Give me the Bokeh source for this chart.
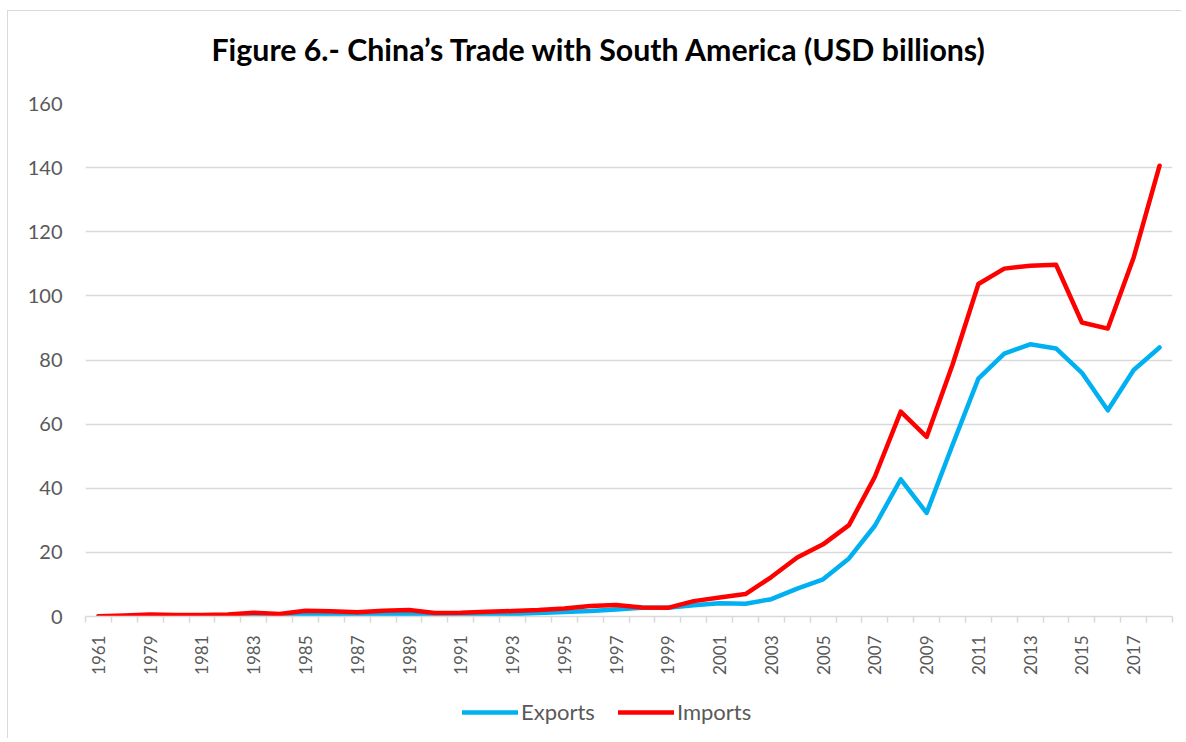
import math
from bokeh.plotting import figure
from bokeh.layouts import column
from bokeh.models import Range1d, FixedTicker, Legend, LegendItem, ColumnDataSource
from bokeh.embed import file_html
from bokeh.resources import INLINE

years = ["1961", "1978", "1979", "1980", "1981", "1982", "1983", "1984", "1985", "1986",
         "1987", "1988", "1989", "1990", "1991", "1992", "1993", "1994", "1995", "1996",
         "1997", "1998", "1999", "2000", "2001", "2002", "2003", "2004", "2005", "2006",
         "2007", "2008", "2009", "2010", "2011", "2012", "2013", "2014", "2015", "2016",
         "2017", "2018"]

exports = [0.05, 0.1, 0.2, 0.2, 0.2, 0.2, 0.3, 0.3, 0.6, 0.5,
           0.4, 0.6, 0.8, 0.3, 0.4, 0.6, 0.8, 1.1, 1.4, 1.7,
           2.2, 2.7, 2.7, 3.5, 4.1, 4.0, 5.4, 8.7, 11.6, 18.1,
           28.3, 42.8, 32.3, 53.5, 74.2, 82.0, 84.9, 83.6, 76.0, 64.3,
           76.9, 83.9]

imports = [0.1, 0.3, 0.6, 0.5, 0.5, 0.6, 1.2, 0.8, 1.8, 1.6,
           1.3, 1.8, 2.0, 1.1, 1.2, 1.5, 1.7, 2.0, 2.5, 3.3,
           3.6, 2.8, 2.7, 4.8, 5.9, 7.0, 12.3, 18.4, 22.5, 28.5,
           43.6, 63.9, 56.0, 78.5, 103.7, 108.5, 109.4, 109.7, 91.7, 89.8,
           112.0, 140.6]

y_ticks = [0, 20, 40, 60, 80, 100, 120, 140, 160]

title_text = "Figure 6.- China\u2019s Trade with South America (USD billions)"

idx = list(range(len(years)))
src = ColumnDataSource(dict(x=idx, exports=exports, imports=imports))

FONT = "Lato"
GRAY = "#595959"
GRID = "#d9d9d9"
BLUE = "#00B0F0"
RED = "#FF0000"

p = figure(frame_width=1086, frame_height=512, output_backend="svg", toolbar_location=None,
           x_range=Range1d(-0.5, len(years) - 0.5), y_range=Range1d(0, 160),
           min_border_left=77, min_border_right=10, min_border_top=92, min_border_bottom=0)

p.title.text = title_text + "\n"
p.title.align = "left"
p.title.offset = 126
p.title.text_font = FONT
p.title.text_font_style = "bold"
p.title.text_font_size = "30.3px"
p.title.text_color = "#000000"
p.title.standoff = 2

p.outline_line_color = None
p.background_fill_color = "white"
p.border_fill_color = "white"

# y axis
p.yaxis.ticker = FixedTicker(ticks=y_ticks)
p.yaxis.axis_line_color = None
p.yaxis.major_tick_line_color = None
p.yaxis.major_tick_out = 0
p.yaxis.major_tick_in = 0
p.yaxis.minor_tick_line_color = None
p.yaxis.major_label_text_font = FONT
p.yaxis.major_label_text_font_size = "20px"
p.yaxis.major_label_text_color = GRAY
p.yaxis.major_label_standoff = 23

# x axis
label_ticks = [i for i in idx if i % 2 == 0]
boundaries = [i - 0.5 for i in idx] + [len(years) - 0.5]
p.xaxis.ticker = FixedTicker(ticks=label_ticks, minor_ticks=boundaries)
p.xaxis.major_label_overrides = {i: years[i] for i in label_ticks}
p.xaxis.major_label_orientation = math.pi / 2
p.xaxis.major_tick_line_color = None
p.xaxis.major_tick_out = 0
p.xaxis.major_tick_in = 0
p.xaxis.minor_tick_line_color = GRID
p.xaxis.minor_tick_line_width = 1.5
p.xaxis.minor_tick_out = 6
p.xaxis.minor_tick_in = 0
p.xaxis.axis_line_color = GRID
p.xaxis.axis_line_width = 1.5
p.xaxis.major_label_text_font = FONT
p.xaxis.major_label_text_font_size = "17px"
p.xaxis.major_label_text_color = GRAY
p.xaxis.major_label_standoff = 13

p.xgrid.grid_line_color = None
p.ygrid.grid_line_color = GRID
p.ygrid.grid_line_width = 1.5

p.line("x", "exports", source=src, line_color=BLUE, line_width=4.5,
       line_join="round", line_cap="round")
p.line("x", "imports", source=src, line_color=RED, line_width=4.5,
       line_join="round", line_cap="round")

p.styles = {"border-left": "1px solid #d9d9d9", "border-top": "1px solid #d9d9d9",
            "margin-left": "7px", "margin-top": "10px"}

# legend strip below the chart (series keys for the same data)
q = figure(width=1173, height=62, output_backend="svg", toolbar_location=None,
           x_range=Range1d(-0.5, len(years) - 0.5), y_range=Range1d(1000, 1001),
           min_border=0)
q.axis.visible = False
q.grid.visible = False
q.outline_line_color = None
q1 = q.line("x", "exports", source=src, line_color=BLUE, line_width=4.5, line_cap="round")
q2 = q.line("x", "imports", source=src, line_color=RED, line_width=4.5, line_cap="round")
legend = Legend(items=[LegendItem(label="Exports", renderers=[q1]),
                       LegendItem(label="Imports", renderers=[q2])],
                orientation="horizontal", location=(377, 13),
                label_text_font=FONT, label_text_font_size="22px", label_text_color=GRAY,
                glyph_width=56, glyph_height=20, label_standoff=3, spacing=23,
                border_line_color=None, background_fill_alpha=0, margin=0, padding=2)
q.add_layout(legend)
q.styles = {"border-left": "1px solid #d9d9d9", "margin-left": "7px"}

layout = column(p, q, spacing=0)
open("out.html", "w").write(file_html(layout, INLINE))
